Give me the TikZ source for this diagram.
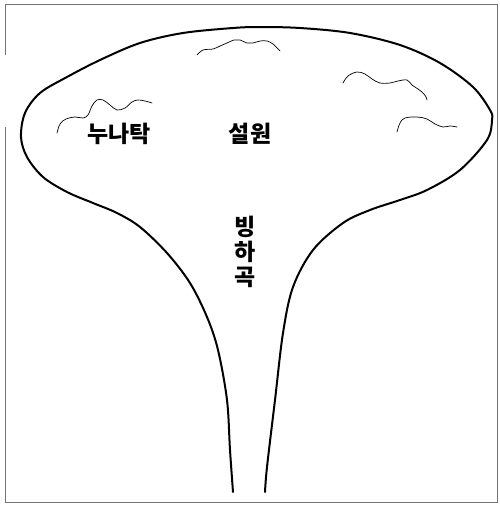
\documentclass[tikz,border=0pt]{standalone}
\usepackage{fontspec}
\newfontfamily\kofont{Noto Sans CJK KR}
\begin{document}
\begin{tikzpicture}[x=1pt,y=-1pt,
  outline/.style={line width=2pt,line join=round,line cap=round},
  ridge/.style={line width=0.7pt,line join=round,line cap=round},
  frame/.style={line width=0.8pt,draw=black!55},
  label/.style={font=\kofont\bfseries\fontsize{23}{25}\selectfont,inner sep=0pt}]
\useasboundingbox (0,0) rectangle (500,506);
% frame
\draw[frame] (5,55) -- (5,4) -- (497,4) -- (497,502) -- (5,502) -- (5,127);
% ice field and glacier valley outline
\draw[outline] plot[smooth,tension=0.55] coordinates {
  (233,492) (230,450) (227,400) (218,350) (207,317) (190,283) (167,253)
  (140,227) (117,213) (93,203) (67,192) (43,177) (27,157) (21,137)
  (25,113) (40,93) (67,77) (100,60) (140,43) (183,33) (233,28) (260,27)
  (300,28) (350,33) (400,45) (440,63) (473,87) (490,110) (492,120)
  (487,140) (460,170) (427,190) (400,200) (370,210) (343,223) (313,250)
  (293,287) (283,333) (275,400) (267,467) (265,492)};
% mountain ridges
\draw[ridge] plot[smooth,tension=0.6] coordinates {
  (197,55) (203,50) (213,49) (220,46) (227,43) (234,40) (240,40) (247,43)
  (253,43) (260,41) (267,41) (273,44) (280,51)};
\draw[ridge] plot[smooth,tension=0.6] coordinates {
  (57,133) (60,124) (66,119) (75,117) (83,118) (88,115) (92,106) (97,100)
  (103,100) (110,105) (117,110) (125,108) (132,102) (138,100) (145,101) (152,103)};
\draw[ridge] plot[smooth,tension=0.6] coordinates {
  (343,83) (348,76) (357,72) (365,74) (372,79) (380,83) (390,83) (398,81)
  (407,80) (412,85) (418,89) (423,93) (426,97) (427,100)};
\draw[ridge] plot[smooth,tension=0.6] coordinates {
  (397,132) (400,123) (405,118) (417,117) (427,119) (435,124) (443,127)
  (450,126) (457,127)};
% labels
\node[label] (nunatak) at (119,134) {누나탁};
\node[label] (field) at (250,134) {설원};
\node[label,align=center] (valley) at (245,252) {빙\\하\\곡};
\end{tikzpicture}
\end{document}
